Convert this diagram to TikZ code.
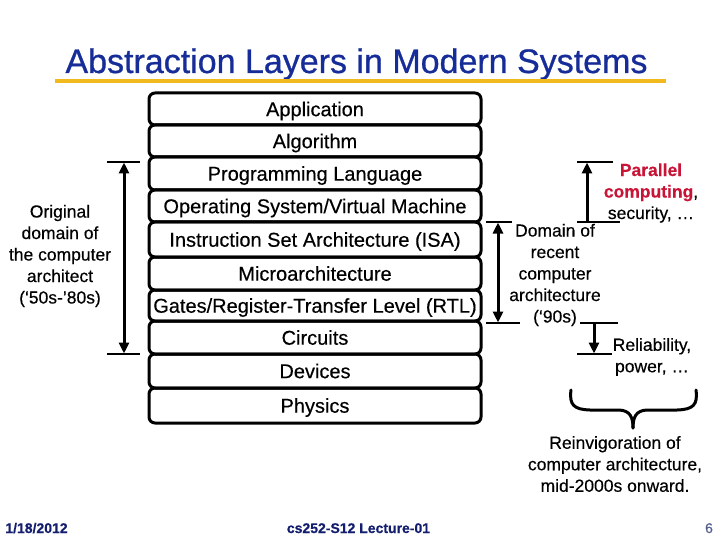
\documentclass[tikz,border=0pt]{standalone}
\usepackage{fontspec}
\setmainfont{Liberation Sans}[FakeBold=0.4]
\newfontfamily\titlefont{Liberation Sans}[FakeBold=0.8]
\usetikzlibrary{arrows.meta}
\definecolor{titleblue}{RGB}{22,44,152}
\definecolor{ruleyellow}{RGB}{240,185,30}
\definecolor{footblue}{RGB}{20,30,110}
\definecolor{pagegray}{RGB}{85,95,140}
\definecolor{parred}{RGB}{200,20,55}
\begin{document}
\begin{tikzpicture}[x=1pt,y=-1pt,
  layer/.style={draw, line width=3pt, rounded corners=6pt, minimum width=332pt,
    inner sep=0pt, text height=15pt, text depth=0.6pt, font=\fontsize{20}{24}\selectfont},
  side/.style={align=center, inner sep=0pt, font=\fontsize{17.5}{21.5}\selectfont},
  foot/.style={inner sep=0pt, anchor=base, font=\fontsize{14}{16}\selectfont\bfseries},
  tick/.style={line width=1.2pt},
  dbl/.style={line width=3pt, {Triangle[length=11pt,width=10pt]}-{Triangle[length=11pt,width=10pt]}},
  upar/.style={line width=3pt, -{Triangle[length=11pt,width=10pt]}},
  brace/.style={line width=3pt, line cap=round, line join=round}
]
\useasboundingbox (0,0) rectangle (720,540);

% title
\node[inner sep=0pt, anchor=base, text=titleblue, font=\titlefont\fontsize{34}{40}\selectfont] (title) at (356.5,73) {Abstraction Layers in Modern Systems};
\coordinate (rl) at (55,81);
\coordinate (rr) at (666,81);
\draw[ruleyellow, line width=3.5pt] (rl) -- (rr);

% layers
\node[layer, minimum height=32pt] (app)   at (315,109)   {Application};
\node[layer, minimum height=32pt] (alg)   at (315,141)   {Algorithm};
\node[layer, minimum height=33pt] (pl)    at (315,173.5) {Programming Language};
\node[layer, minimum height=32pt] (os)    at (315,206)   {Operating System/Virtual Machine};
\node[layer, minimum height=35pt] (isa)   at (315,239.5) {Instruction Set Architecture (ISA)};
\node[layer, minimum height=33pt] (micro) at (315,273.5) {Microarchitecture};
\node[layer, minimum height=31pt] (gates) at (315,305.5) {Gates/Register-Transfer Level (RTL)};
\node[layer, minimum height=33pt] (circ)  at (315,337.5) {Circuits};
\node[layer, minimum height=34pt] (dev)   at (315,371)   {Devices};
\node[layer, minimum height=35pt] (phys)  at (315,405.5) {Physics};

% left: original domain
\coordinate (lta) at (107,162); \coordinate (ltb) at (140,162);
\coordinate (lba) at (107,354); \coordinate (lbb) at (140,354);
\coordinate (lt) at (124,162.5); \coordinate (lb) at (124,353.5);
\draw[tick] (lta) -- (ltb);
\draw[tick] (lba) -- (lbb);
\draw[dbl] (lt) -- (lb);
\node[side] (orig) at (60,256) {Original\\domain of\\the computer\\architect\\(‘50s-’80s)};

% right: recent domain
\coordinate (dta) at (486,222); \coordinate (dtb) at (512,222);
\coordinate (dba) at (486,323); \coordinate (dbb) at (520,323);
\coordinate (dt) at (498,222.5); \coordinate (db) at (498,322.5);
\draw[tick] (dta) -- (dtb);
\draw[tick] (dba) -- (dbb);
\draw[dbl] (dt) -- (db);
\node[side] (recent) at (555,275) {Domain of\\recent\\computer\\architecture\\(‘90s)};

% parallel computing
\coordinate (pta) at (577,162); \coordinate (ptb) at (613,162);
\coordinate (pba) at (577,222); \coordinate (pbb) at (620,222);
\coordinate (pt) at (587,162.5); \coordinate (pb) at (587,222);
\draw[tick] (pta) -- (ptb);
\draw[tick] (pba) -- (pbb);
\draw[upar] (pb) -- (pt);
\node[side] (par) at (651,193) {\textcolor{parred}{\bfseries Parallel}\\\textcolor{parred}{\bfseries computing}, \\security, …};

% reliability
\coordinate (rta) at (580,323); \coordinate (rtb) at (618,323);
\coordinate (rba) at (577,354); \coordinate (rbb) at (612,354);
\coordinate (rt) at (594,323); \coordinate (rb) at (594,353.5);
\draw[tick] (rta) -- (rtb);
\draw[tick] (rba) -- (rbb);
\draw[upar] (rt) -- (rb);
\node[side] (rel) at (652,357) {Reliability,\\power, …};

% brace
\coordinate (bl) at (571,390);
\coordinate (br) at (696,390);
\coordinate (bt) at (633,428);
\draw[brace] (bl) .. controls (569,405) and (574,409.5) .. (590,410) -- (619,410)
  .. controls (630,410.5) and (633,417) .. (bt);
\draw[brace] (br) .. controls (698,405) and (693,409.5) .. (677,410) -- (647,410)
  .. controls (636,410.5) and (633,417) .. (bt);
\node[side] (reinv) at (615,464) {Reinvigoration of\\computer architecture,\\mid-2000s onward.};

% footer
\node[foot, text=footblue] (date) at (36.5,533) {1/18/2012};
\node[foot, text=footblue] (lect) at (358.5,533) {cs252-S12 Lecture-01};
\node[foot, text=pagegray, font=\fontsize{14}{16}\selectfont] (page) at (709,533) {6};
\end{tikzpicture}
\end{document}
